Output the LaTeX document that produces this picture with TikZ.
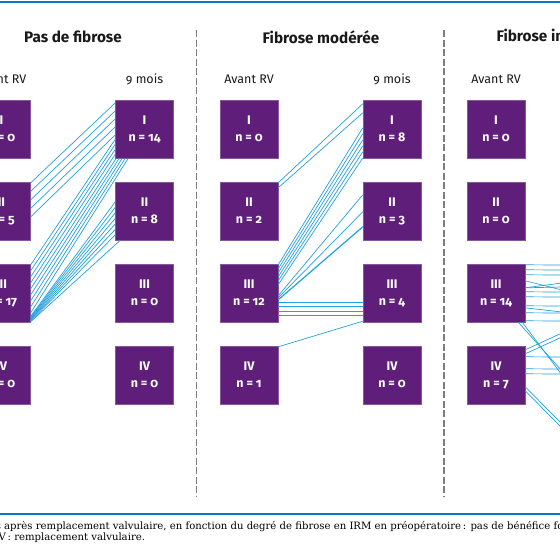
\documentclass[tikz,border=0pt]{standalone}
\usepackage{fontspec}
\setmainfont{Fira Sans}[Numbers=OldStyle]
\newfontfamily\capfont{DejaVu Serif}
\usetikzlibrary{calc}
\definecolor{boxpurple}{RGB}{95,30,122}
\definecolor{linkblue}{RGB}{35,160,222}
\definecolor{sepgray}{RGB}{125,125,125}
\definecolor{ruleblue}{RGB}{25,115,190}
\begin{document}
\begin{tikzpicture}[x=1pt,y=-1pt,
  gbox/.style={fill=boxpurple, draw=boxpurple!75!white, line width=0.4pt,
    minimum width=58pt, minimum height=58pt, inner sep=0pt, text=white,
    font=\fontsize{12.5}{17}\selectfont\bfseries, align=center},
  link/.style={draw=linkblue, line width=0.7pt},
  thicklink/.style={draw=linkblue, line width=1.2pt},
  ptitle/.style={font=\fontsize{15.3}{18}\selectfont\bfseries, text=black!90},
  chead/.style={font=\fontsize{12.5}{15}\selectfont, text=black!90},
  sepline/.style={draw=sepgray, line width=1.2pt, dash pattern=on 7pt off 2.5pt},
  rule/.style={draw=ruleblue},
  captxt/.style={font=\capfont\fontsize{10.1}{11}\selectfont, inner sep=0pt, anchor=base west}]
\useasboundingbox (0,0) rectangle (560,560);
\clip (0,0) rectangle (560,560);
\fill[white] (0,0) rectangle (560,560);

% rules
\draw[rule, line width=1.6pt] (0,2) -- (560,2);
\draw[rule, line width=2pt] (0,514) -- (560,514);

% separators
\draw[sepline] (196.5,30) -- (196.5,496);
\draw[sepline] (444,30) -- (444,496);

% titles and headers
\node[ptitle] (t1) at (73,37) {Pas de fibrose};
\node[ptitle] (t2) at (321,37) {Fibrose modérée};
\node[ptitle] (t3) at (563,37) {Fibrose importante};
\node[chead] (h1a) at (1.5,79) {Avant RV};
\node[chead] (h1b) at (144.5,79) {9 mois};
\node[chead] (h2a) at (249,79) {Avant RV};
\node[chead] (h2b) at (392,79) {9 mois};
\node[chead] (h3a) at (496,79) {Avant RV};

% panel 1 boxes
\node[gbox] (A1) at (1.5,129) {I\\n = 0};
\node[gbox] (A2) at (1.5,211) {II\\n = 5};
\node[gbox] (A3) at (1.5,293) {III\\n = 17};
\node[gbox] (A4) at (1.5,375) {IV\\n = 0};
\node[gbox] (B1) at (144.5,129) {I\\n = 14};
\node[gbox] (B2) at (144.5,211) {II\\n = 8};
\node[gbox] (B3) at (144.5,293) {III\\n = 0};
\node[gbox] (B4) at (144.5,375) {IV\\n = 0};

% panel 2 boxes
\node[gbox] (C1) at (249,129) {I\\n = 0};
\node[gbox] (C2) at (249,211) {II\\n = 2};
\node[gbox] (C3) at (249,293) {III\\n = 12};
\node[gbox] (C4) at (249,375) {IV\\n = 1};
\node[gbox] (D1) at (392,129) {I\\n = 8};
\node[gbox] (D2) at (392,211) {II\\n = 3};
\node[gbox] (D3) at (392,293) {III\\n = 4};
\node[gbox] (D4) at (392,375) {IV\\n = 0};

% panel 3 boxes
\node[gbox] (E1) at (496,129) {I\\n = 0};
\node[gbox] (E2) at (496,211) {II\\n = 0};
\node[gbox] (E3) at (496,293) {III\\n = 14};
\node[gbox] (E4) at (496,375) {IV\\n = 7};

% panel 1 links
\foreach \k in {0,...,4}
  \draw[link] ($(A2.north east)+(0,1+8.5*\k)$) -- ($(B1.north west)+(0,3+8*\k)$);
\foreach \k in {0,...,3}
  \draw[link] ($(A3.north east)+(0,1+6*\k)$) -- ($(B1.south west)+(0,-19+5*\k)$);
\foreach \k in {4,...,8}
  \draw[link] ($(A3.north east)+(0,1+6*\k)$) -- ($(B1.south west)+(1+3*\k-12,0)$);
\foreach \k in {0,...,6}
  \draw[link] ($(A3.south east)+(0,-6+0.8*\k)$) -- ($(B2.north west)+(0,20+5.5*\k)$);
\draw[link] ($(A3.south east)+(0,-0.5)$) -- ($(B2.south west)+(5,0)$);

% panel 2 links
\draw[link] ($(C2.north east)+(0,1)$) -- ($(D1.north west)+(0,4)$);
\draw[link] ($(C2.north east)+(0,6)$) -- ($(D1.north west)+(0,13)$);
\foreach \k in {0,...,5}
  \draw[link] ($(C3.north east)+(0,1+4*\k)$) -- ($(D1.north west)+(0,28+6*\k)$);
\draw[link] ($(C3.north east)+(0,32)$) -- ($(D2.north west)+(0,13)$);
\draw[link] ($(C3.north east)+(0,34)$) -- ($(D2.north west)+(0,30)$);
\draw[thicklink] ($(C3.north east)+(0,36)$) -- ($(D2.north west)+(0,45)$);
\foreach \o in {39,43,48,52}
  \draw[link] ($(C3.north east)+(0,\o)$) -- ($(D3.north west)+(0,\o)$);
\draw[link] ($(C4.north east)+(0,1)$) -- ($(D3.south west)+(0,-1)$);

% panel 3 links (running off the right edge)
\foreach \o/\e [count=\i] in {1/265,6/270,11/275,17/290,24/287,24/283,28/292,33/297,42/306,44/312,49/313,57/321}
  {\coordinate (x\i) at (562,\e);
   \draw[link] ($(E3.north east)+(0,\o)$) -- (x\i);}
\coordinate (xd1) at (562,371);
\coordinate (xd2) at (562,375);
\draw[link] ($(E3.south east)+(-7,0)$) -- (xd1);
\draw[link] ($(E3.south east)+(-3,0)$) -- (xd2);
\foreach \o/\e [count=\i] in {4/333,8/337,11/357,23/369,28/374,41/424,45/428}
  {\coordinate (y\i) at (562,\e);
   \draw[link] ($(E4.north east)+(0,\o)$) -- (y\i);}

% caption
\node[captxt] (cap1) at (4,529) {\llap{mois\ }après remplacement valvulaire, en fonction du degré de fibrose en IRM en préopératoire\,: pas de bénéfice fonctionnel};
\node[captxt] (cap2) at (-1.5,540) {\llap{R}V\,: remplacement valvulaire.};
\end{tikzpicture}
\end{document}
